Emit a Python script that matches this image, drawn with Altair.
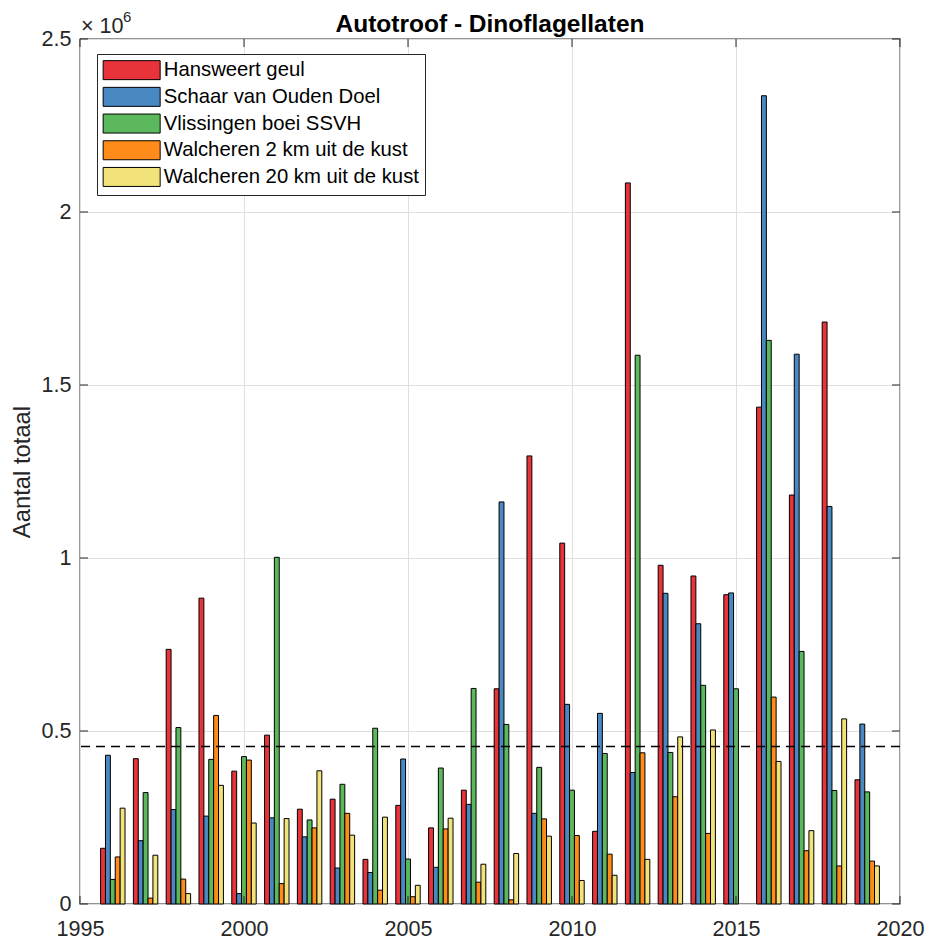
import altair as alt
import pandas as pd

# ---------------- data ----------------
years = list(range(1996, 2020))
series = [
    "Hansweert geul",
    "Schaar van Ouden Doel",
    "Vlissingen boei SSVH",
    "Walcheren 2 km uit de kust",
    "Walcheren 20 km uit de kust",
]
colors = ["#E8333A", "#4A88C2", "#5CB85C", "#FF8C1A", "#F2E27A"]

hansweert = [161000, 420000, 736000, 884000, 384000, 488000, 274000, 303000,
             129000, 285000, 220000, 329000, 622000, 1295000, 1043000, 210000,
             2084000, 979000, 948000, 894000, 1436000, 1182000, 1682000, 359000]
schaar = [430000, 183000, 273000, 254000, 30000, 249000, 194000, 104000,
          91000, 419000, 106000, 288000, 1162000, 262000, 577000, 551000,
          380000, 898000, 810000, 899000, 2336000, 1589000, 1149000, 520000]
vlissingen = [71000, 322000, 510000, 418000, 426000, 1002000, 243000, 346000,
              508000, 130000, 393000, 623000, 519000, 395000, 329000, 435000,
              1586000, 438000, 632000, 622000, 1629000, 730000, 328000, 324000]
walcheren2 = [136000, 17000, 72000, 545000, 416000, 59000, 220000, 262000,
              40000, 21000, 217000, 63000, 12000, 246000, 198000, 144000,
              437000, 310000, 204000, None, 598000, 154000, 110000, 124000]
walcheren20 = [277000, 141000, 30000, 343000, 234000, 247000, 385000, 199000,
               251000, 54000, 248000, 115000, 146000, 196000, 68000, 83000,
               129000, 483000, 503000, None, 412000, 212000, 535000, 110000]

threshold = [455000]
x_ticks = [1995, 2000, 2005, 2010, 2015, 2020]
y_ticks = [0, 500000, 1000000, 1500000, 2000000, 2500000]
title_text = "Autotroof - Dinoflagellaten"
y_title = "Aantal totaal"

# ---------------- table ----------------
all_values = [hansweert, schaar, vlissingen, walcheren2, walcheren20]
rows = []
for i, (name, vals) in enumerate(zip(series, all_values)):
    for yr, v in zip(years, vals):
        if v is not None:
            rows.append({"year": yr, "series": name, "idx": i, "value": v})
df = pd.DataFrame(rows)

W, H = 820, 865
PITCH = 0.149
FONT = "Liberation Sans"
AX = "#262626"

xscale = alt.Scale(domain=[1995, 2020], nice=False, zero=False)
yscale = alt.Scale(domain=[0, 2500000], nice=False)

bars = alt.Chart(df).transform_calculate(
    x0=f"datum.year + (datum.idx - 2) * {PITCH} - {PITCH / 2}",
    x1=f"datum.year + (datum.idx - 2) * {PITCH} + {PITCH / 2}",
    base="0",
).mark_bar(stroke="black", strokeWidth=1, opacity=1).encode(
    x=alt.X("x0:Q", scale=xscale, title=None,
            axis=alt.Axis(values=x_ticks, format="d", labelPadding=14,
                          labelFlush=False, grid=True)),
    x2="x1:Q",
    y=alt.Y("value:Q", scale=yscale, title=y_title,
            axis=alt.Axis(values=y_ticks, labelPadding=9, labelFlush=False,
                          labelExpr="format(datum.value / 1000000, '~g')",
                          titleX=-50.5, titleY=H / 2,
                          titleBaseline="alphabetic", titleFontSize=23.8,
                          titleFontWeight="normal", titleColor=AX,
                          titleFont=FONT, grid=True)),
    y2="base:Q",
    fill=alt.Fill("series:N", scale=alt.Scale(domain=series, range=colors),
                  legend=alt.Legend(
                      title=None, orient="none", legendX=17, legendY=15,
                      symbolType="M-3,-1H3V1H-3Z", symbolSize=361,
                      symbolStrokeColor="black", symbolStrokeWidth=1,
                      symbolOpacity=1, symbolOffset=18.5, labelOffset=22,
                      labelFont=FONT, labelFontSize=20.3, labelColor="black",
                      rowPadding=2.7, padding=6, strokeColor=AX,
                      fillColor="white", cornerRadius=0, labelLimit=400)),
)

thr = alt.Chart(pd.DataFrame({"v": threshold})).mark_rule(
    color="black", strokeWidth=1.5, strokeDash=[9, 6]
).encode(y=alt.Y("v:Q", scale=yscale, title=y_title))

xt = alt.Chart(pd.DataFrame({"t": x_ticks}))
yt = alt.Chart(pd.DataFrame({"t": y_ticks}))
tick_top = xt.mark_rule(color=AX, strokeWidth=1).encode(
    x=alt.X("t:Q", scale=xscale, title=None), y=alt.value(0), y2=alt.value(8))
tick_bottom = xt.mark_rule(color=AX, strokeWidth=1).encode(
    x=alt.X("t:Q", scale=xscale, title=None), y=alt.value(H - 8), y2=alt.value(H))
tick_left = yt.mark_rule(color=AX, strokeWidth=1).encode(
    y=alt.Y("t:Q", scale=yscale, title=y_title), x=alt.value(0), x2=alt.value(8))
tick_right = yt.mark_rule(color=AX, strokeWidth=1).encode(
    y=alt.Y("t:Q", scale=yscale, title=y_title), x=alt.value(W - 8), x2=alt.value(W))

title = alt.Chart(pd.DataFrame({"t": [title_text]})).mark_text(
    font=FONT, fontSize=24.5, fontWeight="bold", color="black",
    align="center", baseline="alphabetic"
).encode(text="t:N", x=alt.value(W / 2), y=alt.value(-7))

exp_base = alt.Chart(pd.DataFrame({"t": ["× 10"]})).mark_text(
    font=FONT, fontSize=21.6, color=AX, align="left", baseline="alphabetic"
).encode(text="t:N", x=alt.value(1), y=alt.value(-6))
exp_pow = alt.Chart(pd.DataFrame({"t": ["6"]})).mark_text(
    font=FONT, fontSize=15, color=AX, align="left", baseline="alphabetic"
).encode(text="t:N", x=alt.value(43), y=alt.value(-17))

chart = alt.layer(
    bars, thr, tick_top, tick_bottom, tick_left, tick_right,
    title, exp_base, exp_pow
).properties(
    width=W, height=H,
    background="white",
    autosize=alt.AutoSizeParams(type="none"),
    padding={"left": 72, "top": 31, "right": 25, "bottom": 38},
).configure_view(
    stroke=AX, strokeWidth=1.3, fill="white"
).configure_axis(
    labelFont=FONT, labelFontSize=21.6, labelColor=AX,
    ticks=False, tickSize=0, domain=False,
    gridColor="#DFDFDF", gridWidth=1, gridOpacity=1,
)

chart.save("out.html", embed_options={"renderer": "svg", "actions": False})
